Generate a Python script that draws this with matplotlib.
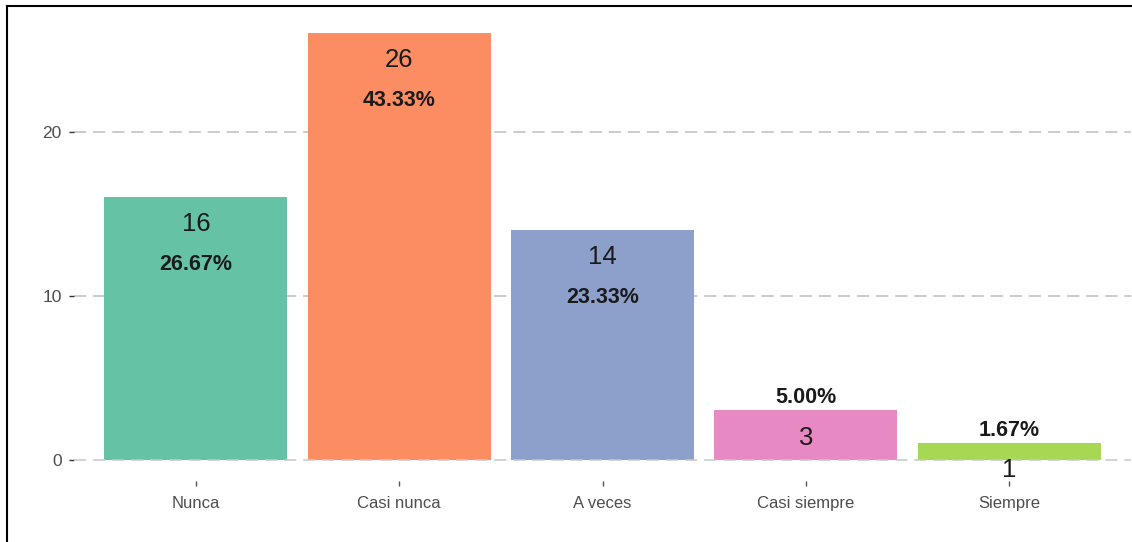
import matplotlib.pyplot as plt
from matplotlib.lines import Line2D

# Response frequencies per category
categories = ["Nunca", "Casi nunca", "A veces", "Casi siempre", "Siempre"]
counts = [16, 26, 14, 3, 1]
percents = ["26.67%", "43.33%", "23.33%", "5.00%", "1.67%"]
colors = ["#66C2A5", "#FC8D62", "#8DA0CB", "#E78AC3", "#A6D854"]

plt.rcParams["font.family"] = ["Liberation Sans", "DejaVu Sans"]

fig = plt.figure(figsize=(11.32, 5.42), dpi=100)
ax = fig.add_axes([74 / 1132, 61 / 542, 1057 / 1132, 469 / 542])

x = list(range(1, len(categories) + 1))
ax.bar(x, counts, width=0.9, color=colors, zorder=2)

ax.set_xlim(0.4, 5.6)
ax.set_ylim(-1.3, 27.3)
ax.set_yticks([0, 10, 20])
ax.set_xticks(x)
ax.set_xticklabels(categories)

# dashed grid, zero line sits on top of the bars
for yv in [10, 20]:
    ax.axhline(yv, color="#BDBDBD", lw=1.1, ls=(0, (8, 4.5)), zorder=1)
ax.axhline(0, color="#C8C8C8", lw=1.1, ls=(0, (8, 4.5)), zorder=3)

for s in ax.spines.values():
    s.set_visible(False)
ax.tick_params(axis="y", length=3.5, width=1, color="#333333", pad=5.5,
               labelsize=12.5, labelcolor="#4D4D4D")
ax.tick_params(axis="x", length=3.5, width=1, color="#555555", pad=7,
               labelsize=12, labelcolor="#4D4D4D")

for xi, c, p in zip(x, counts, percents):
    ax.annotate(str(c), (xi, c), xytext=(0, -19.5), textcoords="offset points",
                ha="center", va="center", fontsize=18.5, color="#1A1A1A", zorder=4)
    if c >= 5:
        ax.annotate(p, (xi, c - 4.1), ha="center", va="center", fontsize=15.5,
                    fontweight="bold", color="#1A1A1A", zorder=4)
    else:
        ax.annotate(p, (xi, c), xytext=(0, 9.5), textcoords="offset points",
                    ha="center", va="center", fontsize=15.5, fontweight="bold",
                    color="#1A1A1A", zorder=4)

# frame line along top and left edge of the image
fig.add_artist(Line2D([7 / 1132, 7 / 1132], [0, 1 - 6 / 542], color="black", lw=1.5))
fig.add_artist(Line2D([7 / 1132, 1], [1 - 6 / 542, 1 - 6 / 542], color="black", lw=1.5))

fig.savefig("out.png", dpi=100, facecolor="white")
